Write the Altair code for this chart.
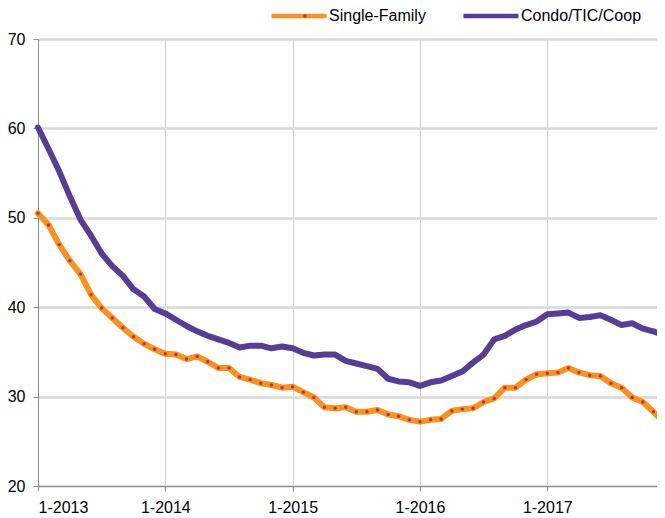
import altair as alt
import pandas as pd

# Monthly values, Jan 2013 .. Dec 2017
single_family = [50.5, 49.2, 47.0, 45.2, 43.7, 41.4, 39.9, 38.8, 37.7, 36.7, 35.9, 35.3,
                 34.8, 34.7, 34.2, 34.5, 33.9, 33.2, 33.2, 32.2, 31.9, 31.5, 31.3, 31.0,
                 31.1, 30.5, 29.9, 28.8, 28.7, 28.8, 28.3, 28.3, 28.5, 28.0, 27.8, 27.4,
                 27.2, 27.4, 27.5, 28.4, 28.6, 28.7, 29.4, 29.8, 31.0, 31.0, 31.9, 32.5,
                 32.6, 32.7, 33.2, 32.7, 32.4, 32.3, 31.5, 31.0, 29.9, 29.4, 28.3, 27.1]
condo = [60.1, 57.7, 55.2, 52.4, 49.8, 48.0, 46.0, 44.6, 43.5, 42.0, 41.2, 39.8,
         39.3, 38.6, 37.9, 37.3, 36.8, 36.4, 36.0, 35.5, 35.7, 35.7, 35.4, 35.6,
         35.4, 34.9, 34.6, 34.7, 34.7, 34.0, 33.7, 33.4, 33.1, 32.0, 31.7, 31.6,
         31.2, 31.6, 31.8, 32.3, 32.8, 33.8, 34.7, 36.4, 36.8, 37.5, 38.0, 38.4,
         39.2, 39.3, 39.4, 38.8, 38.9, 39.1, 38.6, 38.0, 38.2, 37.6, 37.3, 36.8]
series_names = ["Single-Family", "Condo/TIC/Coop"]
tick_labels = ["1-2013", "1-2014", "1-2015", "1-2016", "1-2017"]
y_ticks = [20, 30, 40, 50, 60, 70]

rows = []
for name, vals in zip(series_names, [single_family, condo]):
    for i, v in enumerate(vals):
        rows.append({"idx": i, "value": v, "series": name, "marker": name})
df = pd.DataFrame(rows)

label_expr = "[" + ",".join("'%s'" % t for t in tick_labels) + "][round(datum.value/12)]"

FONT = "Liberation Sans"
ORANGE = "#F7931E"
PURPLE = "#553F96"
RED = "#D12A2A"

x = alt.X("idx:Q", scale=alt.Scale(domain=[0, 59], nice=False, zero=False),
          axis=alt.Axis(values=[0, 12, 24, 36, 48], labelExpr=label_expr, title=None,
                        grid=True, gridColor="#d4d4d4", gridWidth=1,
                        domainColor="#8c8c8c", tickColor="#8c8c8c", tickSize=5,
                        labelFontSize=16, labelPadding=8, labelColor="#000",
                        labelFont=FONT))
y = alt.Y("value:Q", scale=alt.Scale(domain=[20, 70], nice=False, zero=False),
          axis=alt.Axis(values=y_ticks, title=None, grid=True, gridColor="#d9d9d9",
                        gridWidth=2.5, domainColor="#8c8c8c", tickColor="#8c8c8c",
                        tickSize=5, labelFontSize=16, labelPadding=8, labelColor="#000",
                        labelFont=FONT))

LX = 231
LY = -53

color = alt.Color("series:N",
                  scale=alt.Scale(domain=series_names, range=[ORANGE, PURPLE]),
                  legend=alt.Legend(orient="none", direction="horizontal", title=None,
                                    legendX=LX, legendY=LY, symbolType="stroke",
                                    symbolStrokeWidth=4.5, symbolSize=3025,
                                    labelFontSize=16, labelFont=FONT, labelColor="#000",
                                    labelOffset=0, columnPadding=28))

fill = alt.Fill("marker:N",
                scale=alt.Scale(domain=series_names, range=[RED, PURPLE]),
                legend=alt.Legend(orient="none", direction="horizontal", title=None,
                                  legendX=LX + 28, legendY=LY + 22, symbolType="circle",
                                  symbolSize=12, symbolStrokeWidth=0,
                                  labelExpr="''", labelFontSize=16, labelOffset=0,
                                  columnPadding=187))

lines = alt.Chart(df).mark_line(strokeWidth=6, strokeCap="round", strokeJoin="round").encode(
    x=x, y=y, color=color, order="idx:Q")

dots = alt.Chart(df).mark_circle(size=12, opacity=1, strokeWidth=0).encode(
    x=x, y=y, fill=fill)

chart = alt.layer(lines, dots).resolve_scale(color="independent", fill="independent").properties(
    width=626, height=447,
    autosize=alt.AutoSizeParams(type="none"),
    padding={"left": 30, "top": 31, "right": -7, "bottom": 30},
).configure_view(stroke="#d4d4d4", strokeWidth=1).configure(background="white")

chart.save("out.html", embed_options={"renderer": "svg", "actions": False})
